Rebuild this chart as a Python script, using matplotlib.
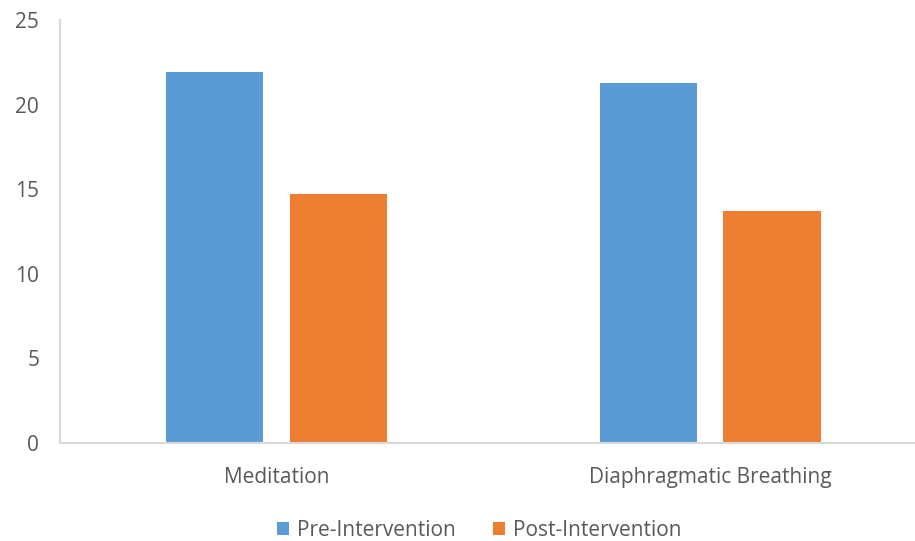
import matplotlib.pyplot as plt
import numpy as np

plt.rcParams['font.family'] = ['Open Sans', 'DejaVu Sans']

groups = ['Meditation', 'Diaphragmatic Breathing']
pre = [21.9, 21.3]
post = [14.7, 13.7]

blue = '#5b9bd5'
orange = '#ed7d31'
grey_text = '#595959'
axis_grey = '#d9d9d9'

fig = plt.figure(figsize=(9.15, 5.41), dpi=100)
ax = fig.add_axes([0.0656, 0.181, 0.9344, 0.782])

x = np.arange(len(groups))
w = 0.224
off = 0.143
ax.bar(x - off, pre, w, color=blue, label='Pre-Intervention')
ax.bar(x + off, post, w, color=orange, label='Post-Intervention')

ax.set_xlim(-0.5, 1.473)
ax.set_ylim(0, 25)
ax.set_yticks(range(0, 26, 5))
ax.set_xticks(x)
ax.set_xticklabels(groups)

for s in ['top', 'right']:
    ax.spines[s].set_visible(False)
for s in ['left', 'bottom']:
    ax.spines[s].set_color(axis_grey)
    ax.spines[s].set_linewidth(1.5)

ax.tick_params(axis='both', length=0, labelsize=15, colors=grey_text)
ax.tick_params(axis='y', pad=15)
ax.tick_params(axis='x', pad=17)

ax.legend(loc='lower center', bbox_to_anchor=(0.49, -0.275), ncol=2, frameon=False,
          fontsize=15, labelcolor=grey_text, handlelength=0.6, handleheight=0.6,
          handletextpad=0.35, columnspacing=1.8)

fig.savefig('out.png', dpi=100)
